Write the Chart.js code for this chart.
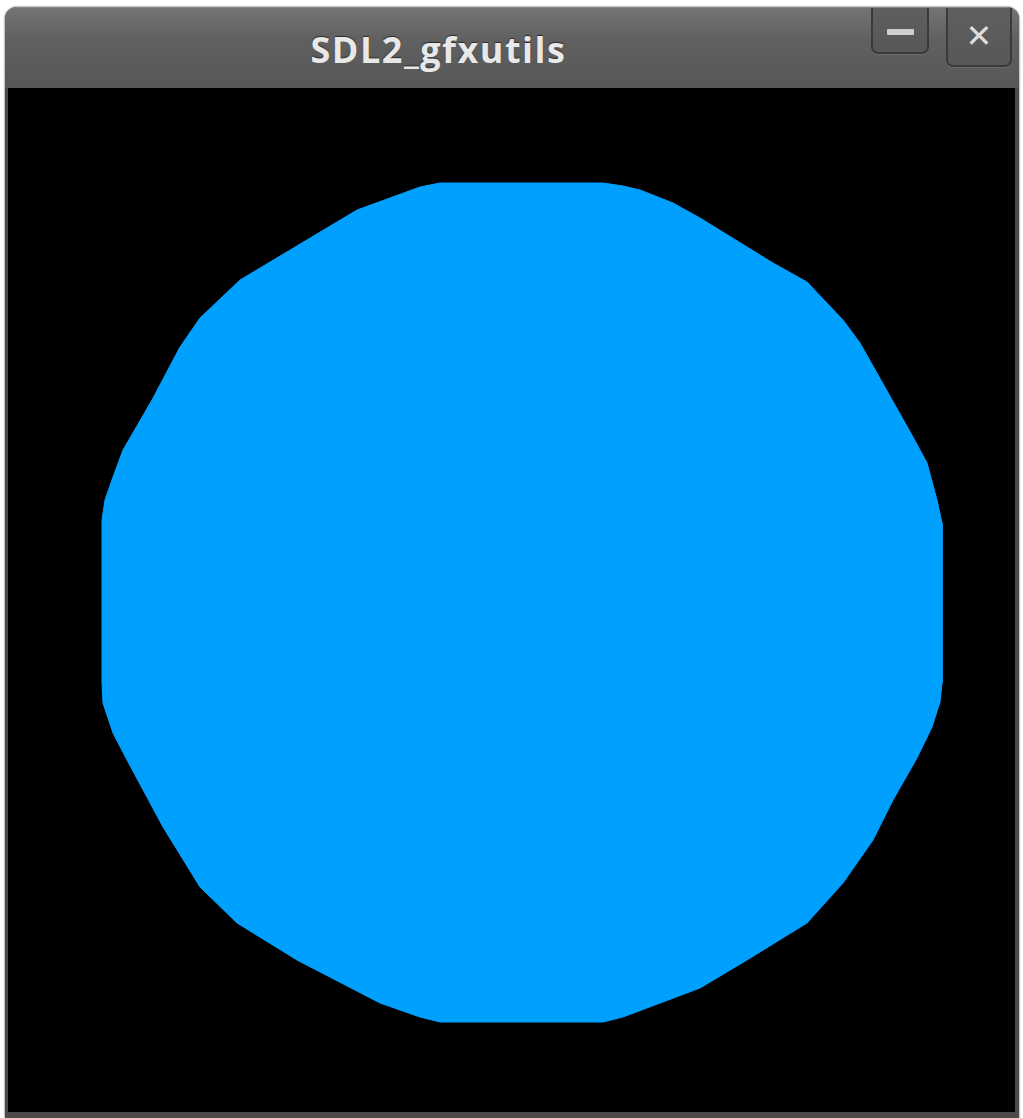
<!DOCTYPE html>
<html>
<head>
<meta charset="utf-8">
<title>SDL2_gfxutils</title>
<script src="https://cdn.jsdelivr.net/npm/chart.js"></script>
<style>
    html, body { margin: 0; padding: 0; background: #ffffff; width: 1023px; height: 1118px; overflow: hidden; }
    #window {
        position: absolute; left: 5px; top: 7px; width: 1014px; height: 1111px;
        background: #4a4a4a; border-radius: 12px 12px 0 0; box-shadow: 0 0 2px #222;
    }
    #titlebar {
        position: absolute; left: 0; top: 0; width: 100%; height: 81px;
        border-radius: 12px 12px 0 0;
        background: linear-gradient(#747474, #606060 40%, #575757);
        border-top: 1px solid #8a8a8a; box-sizing: border-box;
    }
    #title {
        position: absolute; left: 0; width: 867px; top: 24px; text-align: center;
        font-family: "Open Sans", "DejaVu Sans", sans-serif; font-weight: 700; font-size: 36px;
        line-height: 36px; letter-spacing: 1.5px;
        color: #e8e8e8; text-shadow: 0 -1px 1px #2a2a2a;
    }
    .btn {
        position: absolute; top: 0; box-sizing: border-box;
        border: 2px solid #3a3a3a; border-top: none; border-radius: 0 0 7px 7px;
        background: linear-gradient(#5f5f5f, #575757);
        box-shadow: 0 1px 0 #6c6c6c;
    }
    #btn-min { left: 866px; width: 58px; height: 46px; }
    #btn-close { left: 941px; width: 66px; height: 59px; }
    #dash { position: absolute; left: 14px; top: 21px; width: 27px; height: 6px; background: #cfcfcf; border-radius: 1px; }
    #cross {
        position: absolute; left: 0; width: 100%; top: 10px; text-align: center;
        font-family: "DejaVu Sans", sans-serif; font-size: 32px; line-height: 36px; color: #dddddd;
    }
    #screen { position: absolute; left: 3px; top: 81px; width: 1007px; height: 1024px; background: #000000; }
</style>
</head>
<body>
<div id="window">
    <div id="titlebar">
        <div id="title">SDL2_gfxutils</div>
        <div class="btn" id="btn-min"><div id="dash"></div></div>
        <div class="btn" id="btn-close"><div id="cross">✕</div></div>
    </div>
    <div id="screen"><canvas id="shape" width="1007" height="1024"></canvas></div>
</div>
<script>
// polygon outline (page pixels), clockwise from top-left
var outlineX = [440, 603, 623, 640, 673, 700, 773, 807, 843, 860, 913, 927, 937, 942,
                942, 940, 932, 917, 893, 873, 843, 807, 747, 700, 623, 603,
                440, 420, 380, 297, 237, 200, 163, 127, 113, 103, 102,
                102, 105, 113, 123, 152, 180, 200, 240, 357, 420, 440];
var outlineY = [183, 183, 186, 190, 203, 218, 263, 282, 320, 343, 437, 463, 500, 523,
                683, 702, 727, 758, 800, 840, 883, 923, 960, 988, 1017, 1022,
                1022, 1017, 1003, 960, 923, 887, 827, 760, 733, 703, 683,
                520, 500, 477, 450, 400, 347, 318, 280, 210, 187, 183];

var screenLeft = 8, screenRight = 1015;
var screenTop = 88, screenBottom = 1112;

function buildPoints() {
    var pts = [];
    for (var i = 0; i < outlineX.length; i++) {
        pts.push({x: outlineX[i], y: outlineY[i]});
    }
    return pts;
}

new Chart(document.getElementById("shape"), {
    type: "scatter",
    data: {
        datasets: [{
            label: "polygon",
            data: buildPoints(),
            showLine: true,
            fill: "shape",
            tension: 0,
            borderWidth: 1,
            borderColor: "rgb(0,160,255)",
            backgroundColor: "rgb(0,160,255)",
            pointRadius: 0
        }]
    },
    options: {
        responsive: false,
        animation: false,
        layout: { padding: 0 },
        plugins: { legend: { display: false }, tooltip: { enabled: false } },
        scales: {
            x: { type: "linear", display: false, min: screenLeft, max: screenRight },
            y: { type: "linear", display: false, min: screenTop, max: screenBottom, reverse: true }
        }
    }
});
</script>
</body>
</html>
